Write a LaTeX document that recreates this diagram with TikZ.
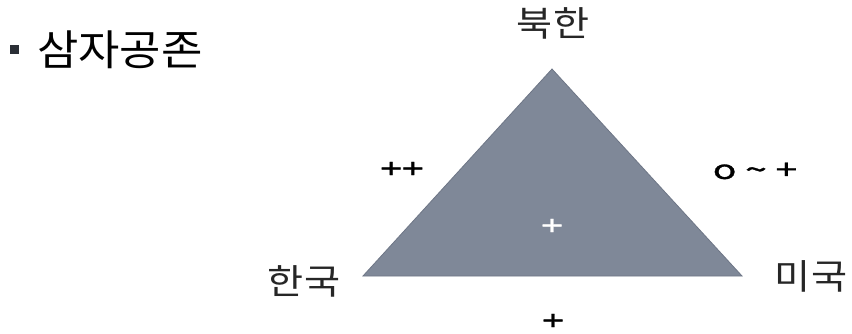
\documentclass[tikz,border=0pt]{standalone}
\usepackage{fontspec}
\setmainfont{Noto Sans CJK KR}
\newfontfamily\kr{Noto Sans CJK KR}
\newfontfamily\krlbl[FakeStretch=1.12]{Noto Sans CJK KR}
\newfontfamily\krttl[FakeStretch=1.07]{Noto Sans CJK KR}
\newfontfamily\krsign[FakeStretch=1.5,FakeBold=1.2]{Noto Sans CJK KR}
\definecolor{trifill}{HTML}{7F8898}
\definecolor{triedge}{HTML}{6E7686}
\definecolor{bulletc}{HTML}{2B2F36}
\tikzset{
  lbl/.style={font=\krlbl\fontsize{35}{37}\selectfont, text=black!85, inner sep=0pt},
  sign/.style={font=\krsign\fontsize{26}{28}\selectfont, text=black, inner sep=0pt},
  title/.style={font=\krttl\fontsize{42}{44}\selectfont, text=black, inner sep=0pt, anchor=west},
}
\begin{document}
\begin{tikzpicture}[x=1pt,y=-1pt]
\useasboundingbox (0,0) rectangle (852,334);
\fill[white] (0,0) rectangle (852,334);
% bullet
\node[fill=bulletc, minimum size=9pt, inner sep=0pt] (bul) at (14,50) {};
\node[title] (ttl) at (37,50) {삼자공존};
% triangle
\coordinate (top) at (552,69);
\coordinate (bl) at (363,276);
\coordinate (br) at (742,276);
\filldraw[fill=trifill, draw=triedge, line width=0.8pt, line join=miter] (top) -- (bl) -- (br) -- cycle;
% labels
\node[lbl] (nk) at (553,23) {북한};
\node[lbl] (sk) at (304,281) {한국};
\node[lbl] (us) at (811,276) {미국};
\node[sign] (pp) at (402,170) {++};
\node[sign] (ot) at (755,171) {o \textasciitilde\ +};
\node[sign, text=white] (cp) at (552,227) {+};
\node[sign] (bp) at (553,322) {+};
\end{tikzpicture}
\end{document}
